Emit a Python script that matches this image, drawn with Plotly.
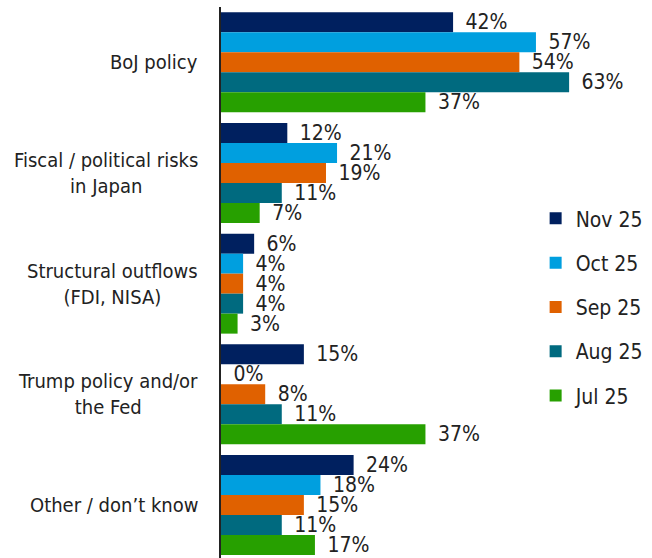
import plotly.graph_objects as go

categories = [
    "BoJ policy",
    "Fiscal / political risks<br>in Japan",
    "Structural outflows<br>(FDI, NISA)",
    "Trump policy and/or<br>the Fed",
    "Other / don\u2019t know",
]
series_names = ["Nov 25", "Oct 25", "Sep 25", "Aug 25", "Jul 25"]
nov_25 = [42, 12, 6, 15, 24]
oct_25 = [57, 21, 4, 0, 18]
sep_25 = [54, 19, 4, 8, 15]
aug_25 = [63, 11, 4, 11, 11]
jul_25 = [37, 7, 3, 37, 17]
series_values = [nov_25, oct_25, sep_25, aug_25, jul_25]
colors = ["#00205F", "#009FDF", "#E06100", "#006A7F", "#27A000"]

FONT = "DejaVu Sans Condensed, Roboto, sans-serif"
TEXT = "#222222"

fig = go.Figure()
for name, vals, col in zip(series_names, series_values, colors):
    fig.add_trace(go.Bar(
        y=categories,
        x=vals,
        name=name,
        orientation="h",
        marker=dict(color=col, line=dict(width=0)),
        text=[f"\u2002{v}%" for v in vals],
        textposition="outside",
        constraintext="none",
        cliponaxis=False,
        textfont=dict(family=FONT, size=21, color=TEXT),
        legendgroup=name,
        hoverinfo="skip",
    ))

# category labels: centred lines, block right-aligned next to the axis
for cat in categories:
    fig.add_annotation(
        x=0, xref="paper", y=cat, yref="y",
        text=cat, showarrow=False,
        xanchor="right", xshift=-21, align="center",
        font=dict(family=FONT, size=20, color=TEXT),
    )

fig.update_layout(
    width=652, height=558,
    margin=dict(l=221, r=0, t=7, b=0),
    paper_bgcolor="white", plot_bgcolor="white",
    barmode="group", bargap=0.097, bargroupgap=0,
    showlegend=True,
    legend=dict(
        x=0.73, xanchor="left", y=0.653, yanchor="top",
        font=dict(family=FONT, size=21, color=TEXT),
        tracegroupgap=14, bgcolor="rgba(0,0,0,0)",
    ),
    xaxis=dict(range=[0, 78.0], showgrid=False, zeroline=False,
               showticklabels=False, showline=False, fixedrange=True),
    yaxis=dict(range=[4.479, -0.5], showgrid=False, zeroline=False,
               showticklabels=False, ticks="", showline=True,
               linewidth=2, linecolor="#222222", fixedrange=True),
)

fig.write_html("out.html")
